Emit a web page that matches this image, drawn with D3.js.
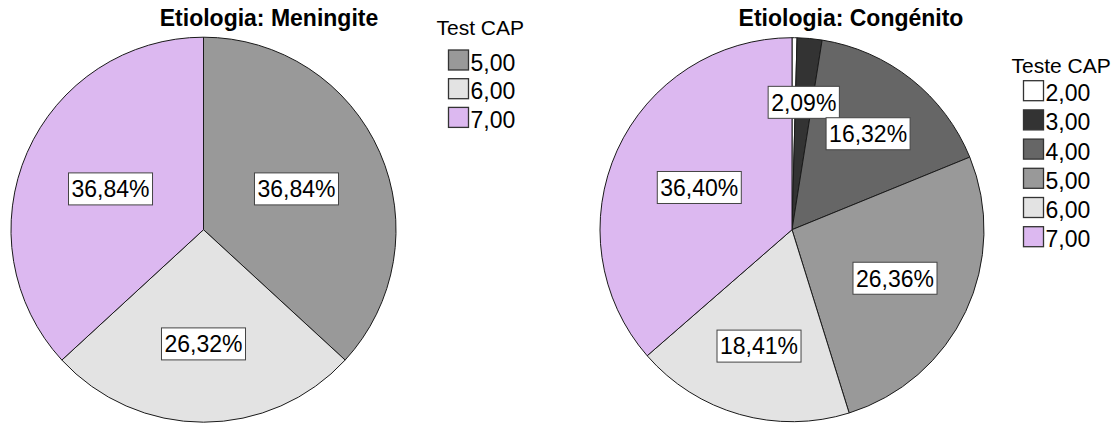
<!DOCTYPE html>
<html>
<head>
<meta charset="utf-8">
<script src="https://cdn.jsdelivr.net/npm/d3@7"></script>
<style>
  html, body { margin: 0; padding: 0; background: #fff; }
  svg text { font-family: "Liberation Sans", Arial, sans-serif; fill: #000; }
</style>
</head>
<body>
<svg id="chart" width="1119" height="423"></svg>
<script>
// Category keys and their slice colours (shared by both pies)
const capKeys   = ["2,00", "3,00", "4,00", "5,00", "6,00", "7,00"];
const capColors = ["#ffffff", "#333333", "#666666", "#999999", "#e3e3e3", "#dcb8f0"];

// Meningite panel
const meningiteTitle = "Etiologia: Meningite";
const meningiteLegendTitle = "Test CAP";
const meningiteCategories = ["5,00", "6,00", "7,00"];
const meningiteValues = [36.84, 26.32, 36.84];

// Congénito panel
const congenitoTitle = "Etiologia: Congénito";
const congenitoLegendTitle = "Teste CAP";
const congenitoCategories = ["2,00", "3,00", "4,00", "5,00", "6,00", "7,00"];
const congenitoValues = [0.42, 2.09, 16.32, 26.36, 18.41, 36.40];

const color = d3.scaleOrdinal().domain(capKeys).range(capColors);
const fmt = v => d3.format(".2f")(v).replace(".", ",") + "%";

const svg = d3.select("#chart");

function drawPanel(cfg) {
  const g = svg.append("g");
  const data = cfg.categories.map((c, i) => ({ cat: c, value: cfg.values[i] }));

  const pie = d3.pie().sort(null).value(d => d.value)
    .startAngle(0).endAngle(2 * Math.PI);
  const arcs = pie(data);
  const arc = d3.arc().innerRadius(0).outerRadius(cfg.r);

  const pieG = g.append("g").attr("transform", `translate(${cfg.cx},${cfg.cy})`);
  pieG.selectAll("path.slice")
    .data(arcs)
    .join("path")
    .attr("class", "slice")
    .attr("d", arc)
    .attr("fill", d => color(d.data.cat))
    .attr("stroke", "#1a1a1a")
    .attr("stroke-width", 1)
    .attr("stroke-linejoin", "round");

  // value labels, boxed, placed at each sector's area centroid
  const labelled = arcs.filter(d => d.data.value >= 1);
  const lab = pieG.selectAll("g.lab").data(labelled).join("g").attr("class", "lab")
    .attr("transform", d => {
      const mid = (d.startAngle + d.endAngle) / 2;
      const half = (d.endAngle - d.startAngle) / 2;
      const f = half < 1e-6 ? 2 / 3 : (2 * Math.sin(half)) / (3 * half);
      const x = cfg.r * f * Math.sin(mid);
      const y = -cfg.r * f * Math.cos(mid);
      return `translate(${x},${y})`;
    });
  lab.append("rect")
    .attr("fill", "#fff")
    .attr("stroke", "#444")
    .attr("stroke-width", 1);
  const txt = lab.append("text")
    .attr("text-anchor", "middle")
    .attr("dy", "0.36em")
    .style("font-size", "23px")
    .text(d => fmt(d.data.value));
  txt.each(function () {
    const w = this.getComputedTextLength();
    d3.select(this.parentNode).select("rect")
      .attr("x", -w / 2 - 3).attr("y", -16)
      .attr("width", w + 6).attr("height", 32);
  });

  // title
  g.append("text")
    .attr("x", cfg.titleX).attr("y", 26)
    .attr("text-anchor", "middle")
    .style("font-size", "23px")
    .style("font-weight", "bold")
    .text(cfg.title);

  // legend
  const lg = g.append("g").attr("transform", `translate(${cfg.legX},${cfg.legY})`);
  lg.append("text").attr("x", 0).attr("y", 0)
    .style("font-size", "21px")
    .text(cfg.legendTitle);
  const item = lg.selectAll("g.item").data(cfg.categories).join("g").attr("class", "item")
    .attr("transform", (d, i) => `translate(12,${cfg.legGap + i * cfg.legPitch})`);
  item.append("rect")
    .attr("width", 20).attr("height", 20)
    .attr("fill", d => color(d))
    .attr("stroke", "#333").attr("stroke-width", 1.3);
  item.append("text")
    .attr("x", 22).attr("y", 20.5)
    .style("font-size", "23px")
    .text(d => d);
}

drawPanel({
  title: meningiteTitle, legendTitle: meningiteLegendTitle,
  categories: meningiteCategories, values: meningiteValues,
  cx: 203.5, cy: 229.7, r: 192.5, titleX: 269,
  legX: 436.5, legY: 35, legGap: 15, legPitch: 28.7
});

drawPanel({
  title: congenitoTitle, legendTitle: congenitoLegendTitle,
  categories: congenitoCategories, values: congenitoValues,
  cx: 792, cy: 229.7, r: 192, titleX: 851,
  legX: 1011.5, legY: 73.3, legGap: 7.4, legPitch: 29.2
});
</script>
</body>
</html>
